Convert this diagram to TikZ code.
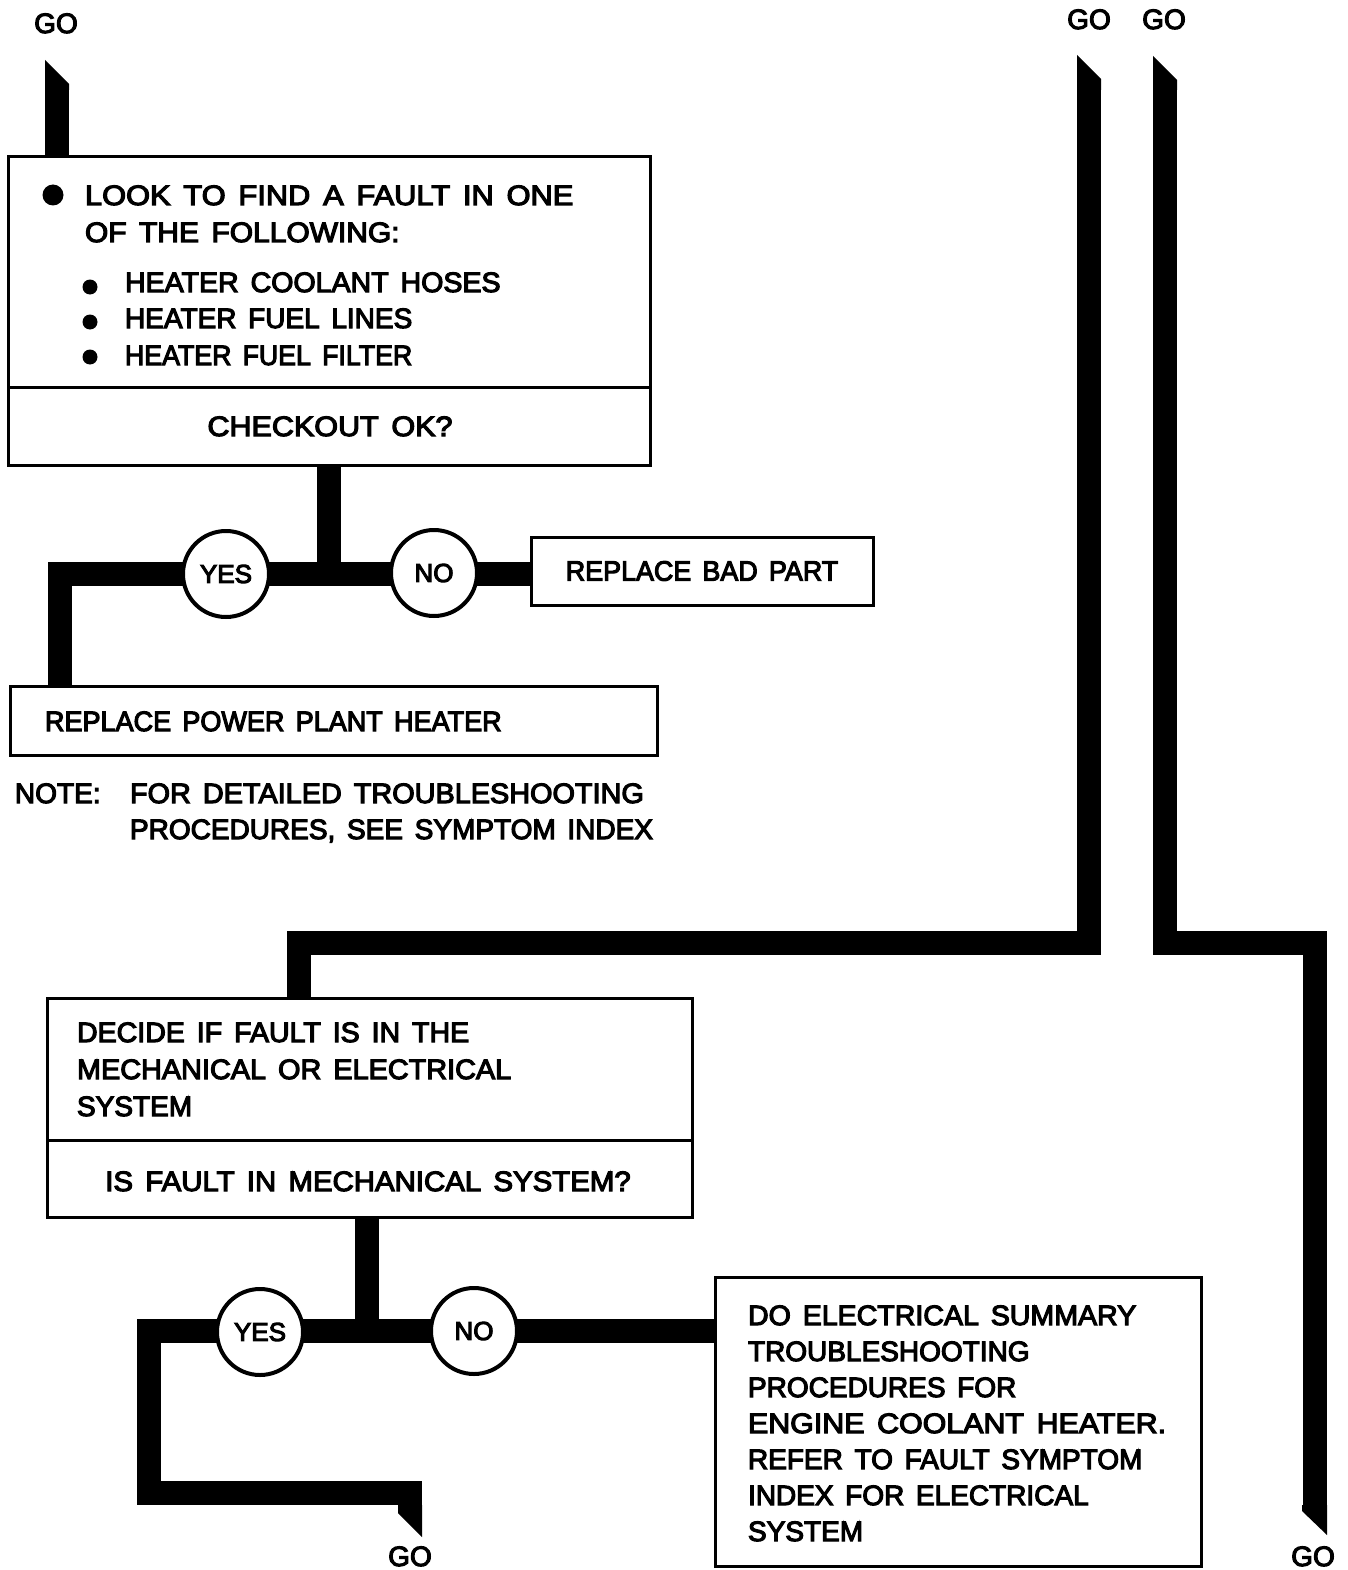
\documentclass[tikz,border=0pt]{standalone}
\usepackage{fontspec}
\setmainfont{Liberation Sans}[WordSpace=1.5,FakeBold=4]
\usetikzlibrary{backgrounds}
\newcommand{\xs}[2]{\scalebox{#1}[1]{#2}}
\begin{document}
\begin{tikzpicture}[x=1pt,y=-1pt,
  txt/.style={inner sep=0pt, outer sep=0pt, font=\fontsize{28}{34}\selectfont},
  golbl/.style={inner sep=0pt, outer sep=0pt, font=\fontsize{28}{32}\selectfont, anchor=base},
  boxnode/.style={draw, line width=3pt, inner sep=0pt, outer sep=0pt, anchor=north west, font=\fontsize{28}{34}\selectfont},
  circ/.style={circle, draw, line width=4pt, fill=white, minimum size=86pt, inner sep=0pt, font=\fontsize{26}{30}\selectfont},
  conn/.style={line width=24pt, line join=miter, line cap=butt},
  bigdot/.style={circle, fill, inner sep=0pt, minimum size=21pt},
  smalldot/.style={circle, fill, inner sep=0pt, minimum size=15pt}]
\useasboundingbox (0,0) rectangle (1348,1570);

% GO labels
\node[golbl] (go1) at (56,33) {GO};
\node[golbl] (go2) at (1089,29) {GO};
\node[golbl] (go3) at (1164,29) {GO};
\node[golbl] (go4) at (410,1566) {GO};
\node[golbl] (go5) at (1313,1566) {GO};

% Box 1
\node[boxnode, minimum width=642pt, minimum height=230pt] (b1top) at (8,157) {};
\node[boxnode, minimum width=642pt, minimum height=78pt] (b1bot) at (8,387) {};
\node[bigdot] (d0) at (53,195) {};
\node[txt, anchor=base west] (t1) at (85,205) {\xs{1.1}{LOOK TO FIND A FAULT IN ONE}};
\node[txt, anchor=base west] (t2) at (85,242) {\xs{1.07}{OF THE FOLLOWING:}};
\node[smalldot] (d1) at (90,287) {};
\node[smalldot] (d2) at (90,322) {};
\node[smalldot] (d3) at (90,357) {};
\node[txt, anchor=base west] (t3) at (125,292) {\xs{1.02}{HEATER COOLANT HOSES}};
\node[txt, anchor=base west] (t4) at (125,328) {HEATER FUEL LINES};
\node[txt, anchor=base west] (t5) at (125,365) {\xs{0.955}{HEATER FUEL FILTER}};
\node[txt, anchor=base] (t6) at (330,436) {\xs{1.09}{CHECKOUT OK?}};

% Branch 1
\node[circ] (yes1) at (226,574) {YES};
\node[circ] (no1) at (434,573) {NO};
\node[boxnode, minimum width=342pt, minimum height=68pt] (bad) at (531,537) {\xs{0.96}{REPLACE BAD PART}};
\node[boxnode, minimum width=647pt, minimum height=69pt] (hp) at (10,686) {};
\node[txt, anchor=base west] (t7) at (45,731) {\xs{0.965}{REPLACE POWER PLANT HEATER}};
\node[txt, anchor=base west] (n1) at (15,803) {NOTE:};
\node[txt, anchor=base west] (n2) at (130,803) {\xs{1.03}{FOR DETAILED TROUBLESHOOTING}};
\node[txt, anchor=base west] (n3) at (130,839) {PROCEDURES, SEE SYMPTOM INDEX};

% Box 2
\node[boxnode, minimum width=645pt, minimum height=142pt] (b2top) at (47,998) {};
\node[boxnode, minimum width=645pt, minimum height=77pt] (b2bot) at (47,1140) {};
\node[txt, anchor=base west] (u1) at (77,1042) {\xs{1.02}{DECIDE IF FAULT IS IN THE}};
\node[txt, anchor=base west] (u2) at (77,1079) {\xs{1.03}{MECHANICAL OR ELECTRICAL}};
\node[txt, anchor=base west] (u3) at (77,1116) {SYSTEM};
\node[txt, anchor=base] (u4) at (368,1191) {\xs{1.05}{IS FAULT IN MECHANICAL SYSTEM?}};

% Branch 2
\node[circ] (yes2) at (260,1332) {YES};
\node[circ] (no2) at (474,1331) {NO};
\node[boxnode, minimum width=486pt, minimum height=289pt] (b3) at (715,1277) {};
\node[txt, anchor=base west] (v1) at (748,1325) {\xs{1.02}{DO ELECTRICAL SUMMARY}};
\node[txt, anchor=base west] (v2) at (748,1361) {TROUBLESHOOTING};
\node[txt, anchor=base west] (v3) at (748,1397) {PROCEDURES FOR};
\node[txt, anchor=base west] (v4) at (748,1433) {\xs{1.085}{ENGINE COOLANT HEATER.}};
\node[txt, anchor=base west] (v5) at (748,1469) {REFER TO FAULT SYMPTOM};
\node[txt, anchor=base west] (v6) at (748,1505) {INDEX FOR ELECTRICAL};
\node[txt, anchor=base west] (v7) at (748,1541) {SYSTEM};

% coordinates
\coordinate (s1) at (57,88);
\coordinate (j1) at (329,574);
\coordinate (c1) at (60,574);
\coordinate (j2) at (367,1331);
\coordinate (c2) at (149,1331);
\coordinate (c3) at (149,1493);
\coordinate (c4) at (410,1493);
\coordinate (e4) at (410,1507);
\coordinate (sA) at (1089,86);
\coordinate (cA1) at (1089,943);
\coordinate (cA2) at (298.5,943);
\coordinate (sB) at (1165,86);
\coordinate (cB1) at (1165,943);
\coordinate (cB2) at (1314.5,943);
\coordinate (eB) at (1314.5,1507);

\begin{scope}[on background layer]
  % top-left GO entry
  \fill (45,60) -- (69,84) -- (69,90) -- (45,90) -- cycle;
  \draw[conn] (s1) -- (s1 |- b1top.north);
  % branch 1
  \draw[conn] (b1bot.south) -- (j1);
  \draw[conn] (bad.west |- j1) -- (c1) -- (c1 |- hp.north);
  % line A
  \fill (1077,55) -- (1101,79) -- (1101,90) -- (1077,90) -- cycle;
  \draw[conn] (sA) -- (cA1) -- (cA2) -- (cA2 |- b2top.north);
  % line B
  \fill (1153,56) -- (1177,80) -- (1177,90) -- (1153,90) -- cycle;
  \draw[conn] (sB) -- (cB1) -- (cB2) -- (eB);
  \fill (1302,1505) -- (1327,1505) -- (1327,1535) -- (1302,1511) -- cycle;
  % branch 2
  \draw[conn] (j2 |- b2bot.south) -- (j2);
  \draw[conn] (b3.west |- j2) -- (c2) -- (c3) -- (c4) -- (e4);
  \fill (398,1505) -- (422,1505) -- (422,1537) -- (398,1513) -- cycle;
\end{scope}
\end{tikzpicture}
\end{document}
